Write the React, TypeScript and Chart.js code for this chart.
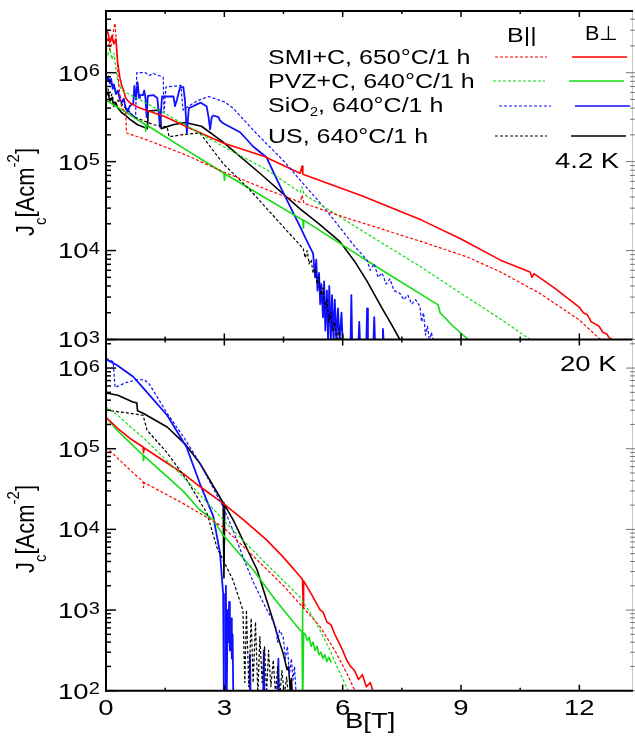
import React, { useEffect, useRef } from "react";
import { Chart, registerables } from "chart.js";

Chart.register(...registerables);

type P = [number, number];

// ---------- axes ----------
const X_MAX = 13.36;
const X_MAJOR = [0, 3, 6, 9, 12];
const X_MINOR = [1.5, 4.5, 7.5, 10.5];
const TOP_Y = [1e3, 4.94e6];
const BOT_Y = [1e2, 2.26e6];
const TOP_DECADES = [3, 4, 5, 6];
const BOT_DECADES = [2, 3, 4, 5, 6];

// ---------- legend ----------
const SAMPLES = ["SMI+C, 650°C/1 h", "PVZ+C, 640°C/1 h", "SiO₂, 640°C/1 h", "US, 640°C/1 h"];
const COLORS = ["#ff0000", "#11dd11", "#1010ff", "#000000"];
const HEAD_PAR = "B||";
const HEAD_PERP = "B⊥";
const TEMP_TOP = "4.2 K";
const TEMP_BOT = "20 K";
const X_TITLE = "B[T]";

// ---------- 4.2 K data (B in T, Jc in A/cm²) ----------
const SMI_PERP_4K: P[] = [
  [0, 3.2e6], [0.05, 2.8e6], [0.1, 2.2e6], [0.15, 2.6e6], [0.2, 2.1e6], [0.25, 2.4e6], [0.3, 1.26e6],
  [0.35, 8.9e5], [0.4, 7.1e5], [0.45, 6.3e5], [0.5, 5.2e5], [0.6, 4.6e5], [0.86, 4.0e5], [1.5, 3.2e5],
  [2.2, 2.3e5], [2.97, 1.62e5], [4.0, 1.15e5], [4.92, 7.4e4], [4.97, 8.9e4], [4.99, 7.2e4], [6.5, 4.1e4],
  [8.0, 2.2e4], [9.0, 1.35e4], [10.0, 7.8e3], [10.75, 5.75e3], [10.8, 5.0e3], [10.85, 5.5e3], [11.4, 3.7e3],
  [11.6, 3.16e3], [11.8, 2.7e3], [12.0, 2.3e3], [12.1, 2.0e3], [12.2, 1.9e3], [12.3, 1.58e3], [12.4, 1.5e3],
  [12.5, 1.41e3], [12.6, 1.2e3], [12.7, 1.15e3], [12.75, 1.05e3], [12.83, 1.0e3], [12.9, 9.5e2],
];
const SMI_PAR_4K: P[] = [
  [0, 2.0e6], [0.05, 2.5e6], [0.1, 1.8e6], [0.15, 2.2e6], [0.2, 3.2e6], [0.23, 3.6e6], [0.27, 2.0e6],
  [0.3, 1.0e6], [0.35, 5.6e5], [0.4, 4.0e5], [0.45, 3.8e5], [0.5, 3.55e5], [0.52, 2.1e5], [1.0, 1.78e5],
  [2.0, 1.2e5], [3.0, 7.6e4], [4.0, 5.0e4], [4.92, 3.5e4], [4.97, 4.2e4], [5.02, 3.4e4], [6.0, 2.4e4],
  [7.0, 1.74e4], [8.0, 1.26e4], [9.15, 8.5e3], [10.0, 5.75e3], [11.0, 3.3e3], [12.0, 1.66e3], [12.53, 1.0e3],
];
const PVZ_PERP_4K: P[] = [
  [0, 4.9e5], [0.5, 3.6e5], [1.0, 2.6e5], [1.01, 2.2e5], [1.02, 2.6e5], [2.0, 1.38e5], [2.99, 7.4e4],
  [3.0, 6.2e4], [3.01, 7.3e4], [4.0, 4.0e4], [4.99, 2.2e4], [5.0, 1.8e4], [5.01, 2.2e4], [6.0, 1.15e4],
  [7.0, 6.0e3], [8.0, 3.2e3], [8.42, 2.45e3], [8.47, 2.0e3], [8.8, 1.41e3], [9.18, 1.0e3],
];
const PVZ_PAR_4K: P[] = [
  [0, 1.8e6], [0.05, 1.58e6], [0.1, 1.9e6], [0.15, 1.41e6], [0.2, 1.66e6], [0.25, 1.12e6], [0.3, 7.9e5],
  [0.4, 6.3e5], [0.53, 5.9e5], [1.0, 4.6e5], [2.0, 2.6e5], [2.97, 1.48e5], [4.08, 8.1e4], [4.92, 4.5e4],
  [4.97, 5.2e4], [5.02, 4.3e4], [6.5, 1.66e4], [7.97, 6.6e3], [9.0, 3.3e3], [10.0, 1.7e3], [10.75, 1.0e3],
];
const SIO_PERP_4K: P[] = [
  [0, 9.5e5], [0.03, 8.3e5], [0.06, 9.1e5], [0.1, 7.6e5], [0.13, 8.5e5], [0.17, 6.6e5], [0.2, 7.4e5],
  [0.25, 5.75e5], [0.3, 6.3e5], [0.35, 5.0e5], [0.4, 4.6e5], [0.45, 5.1e5], [0.5, 4.0e5], [0.55, 3.6e5],
  [0.6, 4.2e5], [0.69, 4.5e5], [0.72, 7.1e5], [0.76, 5.0e5], [0.8, 7.8e5], [0.84, 5.2e5], [0.86, 5.6e5],
  [0.94, 5.6e5], [0.97, 6.3e5], [1.0, 5.2e5], [1.03, 3.16e5], [1.06, 5.5e5], [1.2, 5.6e5], [1.3, 5.2e5],
  [1.37, 2.45e5], [1.42, 5.4e5], [1.71, 5.4e5], [1.75, 4.2e5], [1.8, 5.0e5], [1.88, 6.9e5], [1.96, 6.9e5],
  [2.0, 5.0e5], [2.05, 2.1e5], [2.1, 4.0e5], [2.21, 4.2e5], [2.3, 4.4e5], [2.4, 4.6e5], [2.55, 4.2e5],
  [2.6, 3.16e5], [2.64, 2.3e5], [2.68, 3.16e5], [2.72, 3.3e5], [2.85, 3.16e5], [2.89, 2.9e5], [2.97, 2.7e5],
  [3.4, 2.14e5], [3.73, 1.48e5], [4.07, 1.12e5], [4.33, 6.3e4], [4.49, 4.5e4], [4.92, 1.86e4], [5.1, 1.26e4],
  [5.25, 9.3e3], [5.3, 5.0e3], [5.33, 7.9e3], [5.36, 3.55e3], [5.4, 5.6e3], [5.43, 2.5e3], [5.46, 4.2e3],
  [5.5, 1.78e3], [5.53, 4.5e3], [5.56, 1.26e3], [5.6, 3.55e3], [5.63, 9.5e2], [5.66, 4.0e3], [5.7, 9.5e2],
  [5.73, 3.16e3], [5.77, 9.5e2], [5.8, 2.8e3], [5.84, 9.5e2], [5.88, 2.24e3], [5.92, 9.5e2], [5.97, 2.0e3],
  [6.0, 9.5e2], [6.2, 9.5e2], [6.22, 3.16e3], [6.24, 9.5e2], [6.4, 9.5e2], [6.42, 1.58e3], [6.44, 9.5e2],
  [6.6, 9.5e2], [6.62, 2.24e3], [6.64, 9.5e2], [6.78, 9.5e2], [6.8, 1.78e3], [6.82, 9.5e2], [7.0, 9.5e2],
  [7.02, 1.32e3], [7.04, 9.5e2],
];
const SIO_PAR_4K: P[] = [
  [0, 9.5e5], [0.05, 8.3e5], [0.1, 7.9e5], [0.15, 7.2e5], [0.2, 6.9e5], [0.3, 6.0e5], [0.4, 5.0e5],
  [0.5, 4.2e5], [0.6, 3.55e5], [0.75, 3.16e5], [0.78, 1.0e6], [1.0, 1.0e6], [1.1, 9.3e5], [1.2, 9.8e5],
  [1.45, 8.9e5], [1.47, 3.55e5], [1.52, 6.9e5], [1.9, 7.2e5], [1.95, 3.8e5], [2.1, 4.2e5], [2.3, 4.8e5],
  [2.6, 5.4e5], [3.0, 4.7e5], [3.22, 4.0e5], [3.8, 2.1e5], [4.54, 9.8e4], [4.92, 6.2e4], [5.5, 3.16e4],
  [6.0, 1.66e4], [6.3, 1.12e4], [6.62, 7.8e3], [6.7, 6.0e3], [6.8, 7.1e3], [6.9, 5.0e3], [7.0, 5.6e3],
  [7.1, 4.2e3], [7.2, 4.8e3], [7.3, 3.55e3], [7.45, 3.3e3], [7.55, 2.8e3], [7.65, 3.16e3], [7.75, 2.5e3],
  [7.85, 2.8e3], [7.96, 2.35e3], [8.0, 1.58e3], [8.05, 2.0e3], [8.1, 1.12e3], [8.15, 1.41e3], [8.2, 9.5e2],
  [8.25, 1.2e3], [8.3, 9.5e2],
];
const US_PERP_4K: P[] = [
  [0, 5.4e5], [0.05, 6.0e5], [0.1, 4.8e5], [0.15, 5.2e5], [0.2, 4.2e5], [0.25, 4.6e5], [0.3, 4.0e5],
  [0.4, 3.55e5], [0.5, 3.3e5], [0.6, 3.0e5], [0.8, 2.6e5], [1.05, 2.35e5], [1.07, 3.7e5], [1.37, 3.8e5],
  [1.4, 2.35e5], [1.7, 2.6e5], [2.0, 2.75e5], [2.42, 2.5e5], [2.97, 1.66e5], [3.9, 7.4e4], [4.92, 2.95e4],
  [5.4, 2.0e4], [5.93, 1.26e4], [6.3, 7.6e3], [6.62, 4.5e3], [7.0, 2.24e3], [7.2, 1.58e3], [7.45, 1.0e3],
];
const US_PAR_4K: P[] = [
  [0, 5.75e5], [0.05, 6.6e5], [0.1, 5.0e5], [0.15, 5.75e5], [0.2, 4.6e5], [0.3, 4.9e5], [0.5, 4.0e5],
  [0.73, 3.16e5], [1.2, 2.6e5], [1.55, 2.45e5], [1.6, 1.9e5], [1.9, 2.0e5], [2.38, 2.1e5], [2.97, 9.5e4],
  [3.65, 4.8e4], [4.49, 1.86e4], [5.0, 1.05e4], [5.05, 8.3e3], [5.1, 1.0e4], [5.15, 7.1e3], [5.2, 7.9e3],
  [5.25, 5.6e3], [5.3, 6.3e3], [5.35, 4.2e3], [5.4, 5.0e3], [5.45, 3.16e3], [5.5, 3.8e3], [5.55, 2.24e3],
  [5.6, 2.8e3], [5.65, 1.58e3], [5.7, 2.0e3], [5.75, 1.26e3], [5.8, 1.58e3], [5.85, 9.5e2], [5.9, 1.32e3],
  [5.95, 9.5e2], [6.0, 1.12e3], [6.05, 9.5e2],
];

// ---------- 20 K data ----------
const SMI_PERP_20K: P[] = [
  [0, 2.45e5], [0.3, 1.78e5], [0.6, 1.35e5], [0.94, 1.05e5], [0.95, 8.9e4], [0.97, 1.02e5], [1.96, 4.9e4],
  [2.38, 3.4e4], [2.97, 2.1e4], [3.48, 1.32e4], [4.07, 7.4e3], [4.5, 4.5e3], [4.92, 2.6e3], [4.98, 2.4e3],
  [5.0, 1.07e3], [5.01, 2.3e3], [5.2, 1.6e3], [5.43, 1.0e3], [5.5, 9.5e2], [5.6, 7.1e2], [5.7, 6.6e2],
  [5.8, 5.0e2], [5.9, 4.0e2], [6.0, 3.16e2], [6.1, 2.4e2], [6.2, 2.0e2], [6.3, 1.78e2], [6.4, 1.38e2],
  [6.5, 1.58e2], [6.6, 1.12e2], [6.7, 1.26e2], [6.78, 95],
];
const SMI_PAR_20K: P[] = [
  [0, 1.05e5], [0.3, 7.6e4], [0.6, 5.5e4], [0.94, 3.9e4], [0.95, 3.3e4], [0.97, 3.8e4], [1.95, 2.1e4],
  [2.97, 1.07e4], [3.65, 5.1e3], [4.5, 2.0e3], [5.0, 1.07e3], [5.43, 6.2e2], [5.8, 3.16e2], [6.1, 1.66e2],
  [6.31, 1.0e2],
];
const PVZ_PERP_20K: P[] = [
  [0, 2.45e5], [0.3, 1.66e5], [0.6, 1.2e5], [0.94, 8.3e4], [0.95, 7.1e4], [0.97, 8.1e4], [1.95, 3.0e4],
  [2.38, 1.74e4], [2.72, 1.32e4], [2.97, 8.5e3], [3.73, 3.16e3], [4.3, 1.32e3], [4.92, 5.6e2], [4.97, 5.5e2],
  [4.98, 1.26e3], [4.99, 60], [5.01, 5.2e2], [5.05, 5.0e2],
  [5.1, 4.2e2], [5.15, 4.6e2], [5.2, 3.55e2], [5.25, 4.0e2], [5.3, 3.16e2], [5.35, 3.55e2], [5.4, 2.8e2],
  [5.45, 3.0e2], [5.5, 2.5e2], [5.55, 2.8e2], [5.6, 2.3e2], [5.65, 2.6e2], [5.71, 2.24e2],
];
const PVZ_PAR_20K: P[] = [
  [0, 3.3e5], [0.3, 2.6e5], [0.6, 1.9e5], [0.94, 1.38e5], [1.95, 4.5e4], [3.22, 9.8e3], [4.0, 4.0e3],
  [4.92, 1.45e3], [5.3, 7.4e2], [5.68, 3.16e2], [5.9, 1.78e2], [6.14, 1.0e2],
];
const SIO_PERP_20K: P[] = [
  [0, 1.29e6], [0.3, 1.07e6], [0.69, 7.8e5], [0.98, 5.4e5], [1.55, 2.6e5], [2.04, 1.05e5], [2.38, 3.7e4],
  [2.72, 1.45e4], [2.89, 5.1e3], [2.97, 1.58e3], [2.99, 60], [3.02, 60], [3.04, 2.0e3], [3.06, 60],
  [3.08, 1.0e3], [3.1, 4.0e2], [3.12, 1.26e3], [3.14, 3.16e2], [3.17, 7.9e2], [3.19, 2.5e2], [3.21, 5.0e2],
  [3.23, 60], [3.63, 60], [3.65, 2.8e2], [3.67, 60], [3.98, 60], [4.0, 3.16e2], [4.02, 60], [4.35, 60],
  [4.37, 2.5e2], [4.39, 60],
];
const SIO_PAR_20K: P[] = [
  [0, 1.32e6], [0.1, 1.26e6], [0.18, 1.2e6], [0.23, 5.75e5], [0.5, 6.6e5], [0.8, 7.2e5], [0.98, 7.1e5],
  [1.1, 6.3e5], [1.55, 2.75e5], [2.0, 1.32e5], [2.38, 6.6e4], [2.97, 1.9e4], [3.22, 9.8e3], [3.5, 4.2e3],
  [3.73, 2.24e3], [4.08, 1.0e3], [4.2, 7.9e2], [4.3, 6.3e2], [4.35, 4.0e2], [4.4, 5.6e2], [4.49, 4.7e2],
  [4.55, 2.5e2], [4.6, 3.55e2], [4.65, 1.58e2], [4.7, 2.5e2], [4.74, 1.35e2], [4.78, 2.0e2], [4.82, 89],
];
const US_PERP_20K: P[] = [
  [0, 4.9e5], [0.3, 4.6e5], [0.68, 3.8e5], [0.78, 3.7e5], [0.8, 2.95e5], [0.94, 2.75e5], [1.55, 1.86e5],
  [2.0, 1.15e5], [2.38, 6.6e4], [2.97, 2.14e4], [2.99, 2.5e3], [3.01, 2.0e4], [3.22, 1.32e4], [3.83, 3.16e3],
  [4.23, 7.6e2], [4.4, 4.0e2], [4.5, 2.8e2], [4.59, 1.82e2], [4.63, 2.0e2], [4.67, 1.0e2], [4.7, 1.41e2],
  [4.73, 79],
];
const US_PAR_20K: P[] = [
  [0, 3.0e5], [0.5, 2.8e5], [0.94, 2.6e5], [1.04, 1.7e5], [1.55, 8.9e4], [2.05, 4.1e4], [2.56, 1.58e4],
  [2.81, 6.0e3], [3.22, 2.35e3], [3.47, 1.0e3], [3.52, 1.26e2], [3.56, 1.0e3], [3.62, 1.12e2], [3.68, 7.9e2],
  [3.73, 1.26e2], [3.79, 7.1e2], [3.85, 89], [3.9, 4.7e2], [3.96, 1.26e2], [4.02, 3.55e2], [4.07, 89],
  [4.12, 3.16e2], [4.18, 1.12e2], [4.24, 2.4e2], [4.3, 89], [4.35, 2.0e2], [4.41, 89], [4.46, 1.78e2],
  [4.52, 89], [4.58, 1.48e2], [4.63, 79],
];

// ---------- drawing helpers ----------
const FONT = '"Liberation Sans", Arial, Helvetica, sans-serif';
const SX = 1.25;
type Seg = { t: string; size: number; dy: number };

function segsOf(text: string, size: number): Seg[] {
  const out: Seg[] = [];
  let buf = "";
  for (const ch of text) {
    if (ch === "₂") {
      if (buf) out.push({ t: buf, size, dy: 0 });
      buf = "";
      out.push({ t: "2", size: Math.round(size * 0.62), dy: 4 });
    } else buf += ch;
  }
  if (buf) out.push({ t: buf, size, dy: 0 });
  return out;
}

function segWidth(ctx: CanvasRenderingContext2D, segs: Seg[]) {
  let w = 0;
  for (const s of segs) {
    ctx.font = `${s.size}px ${FONT}`;
    w += ctx.measureText(s.t).width;
  }
  return w;
}

function drawSegs(ctx: CanvasRenderingContext2D, segs: Seg[], x: number, y: number, align = "left", sx = SX) {
  const w = segWidth(ctx, segs) * sx;
  const x0 = align === "left" ? x : align === "center" ? x - w / 2 : x - w;
  ctx.save();
  ctx.translate(x0, y);
  ctx.scale(sx, 1);
  ctx.fillStyle = "#000";
  ctx.textAlign = "left";
  ctx.textBaseline = "alphabetic";
  let cx = 0;
  for (const s of segs) {
    ctx.font = `${s.size}px ${FONT}`;
    ctx.fillText(s.t, cx, s.dy);
    cx += ctx.measureText(s.t).width;
  }
  ctx.restore();
}

function drawPow(ctx: CanvasRenderingContext2D, exp: number, yc: number) {
  const base = 22;
  const cap = base * 0.716;
  const baseline = yc + cap / 2;
  drawSegs(ctx, [{ t: "10", size: base, dy: 0 }], 88.5, baseline, "right");
  const sup = 16;
  drawSegs(ctx, [{ t: String(exp), size: sup, dy: 0 }], 88.8, baseline - cap + sup * 0.716, "left");
}

function drawYTitle(ctx: CanvasRenderingContext2D, bx: number, cy: number) {
  const segs: Seg[] = [
    { t: "J", size: 22, dy: 0 },
    { t: "c", size: 15, dy: 10 },
    { t: "[Acm", size: 22, dy: 0 },
    { t: "-2", size: 15, dy: -13 },
    { t: "]", size: 22, dy: 0 },
  ];
  const w = segWidth(ctx, segs);
  ctx.save();
  ctx.translate(bx, cy);
  ctx.scale(1.15, 1);
  ctx.rotate(-Math.PI / 2);
  ctx.fillStyle = "#000";
  ctx.textBaseline = "alphabetic";
  ctx.textAlign = "left";
  let x = -w / 2;
  for (const s of segs) {
    ctx.font = `${s.size}px ${FONT}`;
    ctx.fillText(s.t, x, s.dy);
    x += ctx.measureText(s.t).width;
  }
  ctx.restore();
}

function line(ctx: CanvasRenderingContext2D, x1: number, y1: number, x2: number, y2: number) {
  ctx.beginPath();
  ctx.moveTo(x1, y1);
  ctx.lineTo(x2, y2);
  ctx.stroke();
}

function drawPanel(chart: any, which: "top" | "bottom") {
  const ctx: CanvasRenderingContext2D = chart.ctx;
  const xs = chart.scales.x;
  const ys = chart.scales.y;
  const { left, right, top, bottom } = chart.chartArea;
  const decades = which === "top" ? TOP_DECADES : BOT_DECADES;
  const [ymin, ymax] = which === "top" ? TOP_Y : BOT_Y;
  ctx.save();
  ctx.setLineDash([]);
  // right axis (faint)
  ctx.strokeStyle = "#c8c8c8";
  ctx.lineWidth = 1;
  line(ctx, right - 0.5, top, right - 0.5, bottom);
  ctx.strokeStyle = "#777";
  for (const d of decades) {
    for (let m = 1; m <= 9; m++) {
      const v = m * Math.pow(10, d);
      if (v < ymin || v > ymax) continue;
      const py = ys.getPixelForValue(v);
      line(ctx, right - (m === 1 ? 7 : 3), py, right + 2, py);
    }
  }
  // frame
  ctx.strokeStyle = "#000";
  ctx.lineWidth = 2;
  line(ctx, left, top - 1, left, bottom + 1);
  line(ctx, left - 1, bottom, right, bottom);
  if (which === "top") line(ctx, left - 1, top, right, top);
  // x ticks
  ctx.lineWidth = 1.5;
  for (const v of [...X_MAJOR, ...X_MINOR]) {
    const px = xs.getPixelForValue(v);
    const len = X_MAJOR.includes(v) ? 6 : 3;
    line(ctx, px, top, px, top + len);
    line(ctx, px, bottom, px, bottom - len);
  }
  // y ticks
  for (const d of decades) {
    for (let m = 1; m <= 9; m++) {
      const v = m * Math.pow(10, d);
      if (v < ymin || v > ymax) continue;
      const py = ys.getPixelForValue(v);
      line(ctx, left, py, left + (m === 1 ? 10 : 5), py);
    }
  }
  ctx.restore();
  // y tick labels
  for (const d of decades) drawPow(ctx, d, ys.getPixelForValue(Math.pow(10, d)));
  drawYTitle(ctx, 34, which === "top" ? 192 : 529);

  if (which === "top") {
    // legend
    drawSegs(ctx, segsOf(HEAD_PAR, 20), 507, 42);
    drawSegs(ctx, segsOf(HEAD_PERP, 20), 585, 40, "left", 1.08);
    const rowsY = [64, 88, 112, 143];
    const lineY = [57, 81, 106, 136];
    const dashX = [495, 493, 499, 495];
    const solX = [572, 569, 575, 571];
    SAMPLES.forEach((s, i) => {
      drawSegs(ctx, segsOf(s, 20), 268, rowsY[i]);
      ctx.save();
      ctx.strokeStyle = COLORS[i];
      ctx.lineWidth = 1.2;
      ctx.setLineDash([3, 2]);
      line(ctx, dashX[i], lineY[i], dashX[i] + 52, lineY[i]);
      ctx.setLineDash([]);
      ctx.lineWidth = 1.6;
      line(ctx, solX[i], lineY[i], solX[i] + 55, lineY[i]);
      ctx.restore();
    });
    drawSegs(ctx, segsOf(TEMP_TOP, 22), 555, 168);
  } else {
    drawSegs(ctx, segsOf(TEMP_BOT, 22), 560, 371);
    for (const v of X_MAJOR) drawSegs(ctx, segsOf(String(v), 22), xs.getPixelForValue(v), 715, "center");
    drawSegs(ctx, segsOf(X_TITLE, 22), 345, 728);
  }
}

function ds(data: P[], color: string, dashed: boolean, width: number) {
  return {
    data: data.map(([x, y]) => ({ x, y })),
    borderColor: color,
    borderWidth: width,
    borderDash: dashed ? [3, 2] : [],
    pointRadius: 0,
    fill: false,
    tension: 0,
  };
}

function makeConfig(datasets: any[], yr: number[], padding: any, which: "top" | "bottom") {
  return {
    type: "line" as const,
    data: { datasets },
    options: {
      responsive: false,
      animation: false as const,
      devicePixelRatio: 1,
      events: [],
      layout: { padding },
      plugins: { legend: { display: false }, tooltip: { enabled: false }, title: { display: false } },
      elements: { point: { radius: 0 }, line: { borderJoinStyle: "round" as const } },
      scales: {
        x: { type: "linear" as const, min: 0, max: X_MAX, display: false },
        y: { type: "logarithmic" as const, min: yr[0], max: yr[1], display: false },
      },
    },
    plugins: [{ id: "panelDecor", afterDraw: (c: any) => drawPanel(c, which) }],
  };
}

export default function App() {
  const topRef = useRef<HTMLCanvasElement>(null);
  const botRef = useRef<HTMLCanvasElement>(null);
  useEffect(() => {
    const [R, G, B, K] = COLORS;
    const topSets = [
      ds(SMI_PAR_4K, R, true, 1.2), ds(PVZ_PAR_4K, G, true, 1.2), ds(SIO_PAR_4K, B, true, 1.2), ds(US_PAR_4K, K, true, 1.2),
      ds(SMI_PERP_4K, R, false, 1.6), ds(PVZ_PERP_4K, G, false, 1.6), ds(SIO_PERP_4K, B, false, 1.8), ds(US_PERP_4K, K, false, 1.6),
    ];
    const botSets = [
      ds(SMI_PAR_20K, R, true, 1.2), ds(PVZ_PAR_20K, G, true, 1.2), ds(SIO_PAR_20K, B, true, 1.2), ds(US_PAR_20K, K, true, 1.2),
      ds(SMI_PERP_20K, R, false, 1.6), ds(PVZ_PERP_20K, G, false, 1.6), ds(SIO_PERP_20K, B, false, 1.8), ds(US_PERP_20K, K, false, 1.6),
    ];
    const c1 = new Chart(topRef.current as HTMLCanvasElement, makeConfig(topSets, TOP_Y, { top: 11, bottom: 396.5, left: 106, right: 2 }, "top") as any);
    const c2 = new Chart(botRef.current as HTMLCanvasElement, makeConfig(botSets, BOT_Y, { top: 339.5, bottom: 45.3, left: 106, right: 2 }, "bottom") as any);
    return () => {
      c1.destroy();
      c2.destroy();
    };
  }, []);
  return (
    <div style={{ position: "fixed", left: 0, top: 0, width: 635, height: 736, background: "#fff" }}>
      <canvas ref={topRef} width={635} height={736} style={{ position: "absolute", left: 0, top: 0 }} />
      <canvas ref={botRef} width={635} height={736} style={{ position: "absolute", left: 0, top: 0 }} />
    </div>
  );
}
